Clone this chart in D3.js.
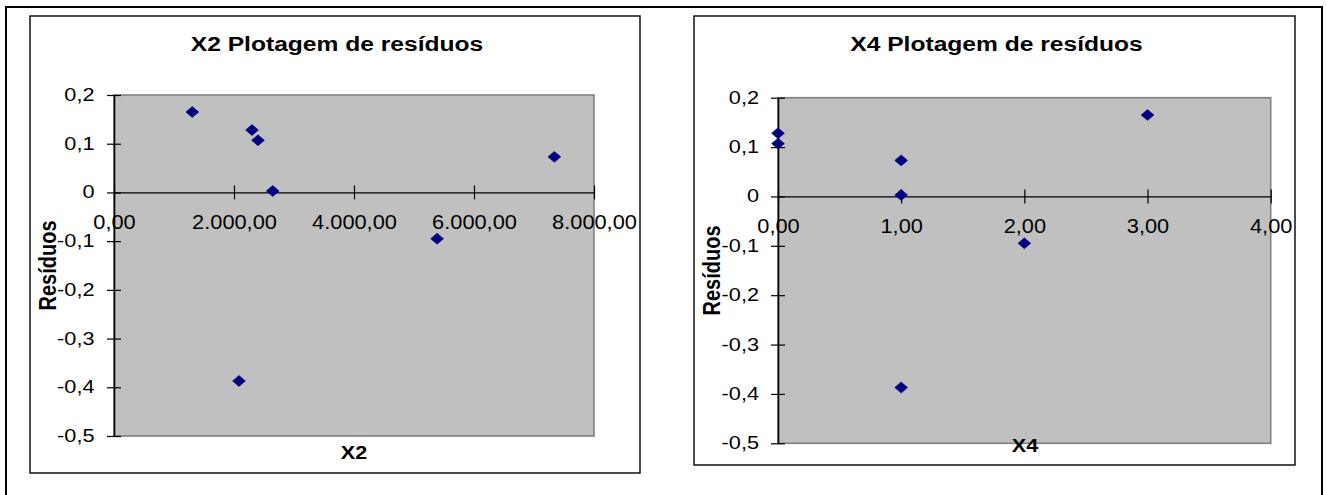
<!DOCTYPE html>
<html>
<head>
<meta charset="utf-8">
<script src="https://cdn.jsdelivr.net/npm/d3@7"></script>
<style>
  html, body { margin: 0; padding: 0; background: #fff; }
  svg { display: block; }
  text { font-family: "Liberation Sans", Arial, Helvetica, sans-serif; }
</style>
</head>
<body>
<svg id="chart" width="1326" height="495"></svg>
<script>
// Residuals of the regression, one per observation
const residuals = [0.165, 0.128, 0.107, 0.003, 0.073, -0.095, -0.387];
// Explanatory variables for the same observations
const x2Values = [1305, 2300, 2400, 2645, 7339, 5385, 2083];
const x4Values = [3, 0, 0, 1, 1, 2, 1];

// Axis ticks and their labels (Portuguese number format)
const yTicks = [-0.5, -0.4, -0.3, -0.2, -0.1, 0, 0.1, 0.2];
const yTickLabels = ["-0,5", "-0,4", "-0,3", "-0,2", "-0,1", "0", "0,1", "0,2"];
const x2Ticks = [0, 2000, 4000, 6000, 8000];
const x2TickLabels = ["0,00", "2.000,00", "4.000,00", "6.000,00", "8.000,00"];
const x4Ticks = [0, 1, 2, 3, 4];
const x4TickLabels = ["0,00", "1,00", "2,00", "3,00", "4,00"];

const svg = d3.select("#chart");

// Outer page frame
svg.append("rect")
  .attr("x", 6).attr("y", 7).attr("width", 1316).attr("height", 520)
  .attr("fill", "none").attr("stroke", "#000").attr("stroke-width", 2);

function drawChart(o) {
  const g = svg.append("g");

  // Chart box
  g.append("rect")
    .attr("x", o.box[0]).attr("y", o.box[1]).attr("width", o.box[2]).attr("height", o.box[3])
    .attr("fill", "#fff").attr("stroke", "#000").attr("stroke-width", 1.4);

  const [px, py, pw, ph] = o.plot;
  const x = d3.scaleLinear().domain([o.xTicks[0], o.xTicks[o.xTicks.length - 1]]).range([px, px + pw]);
  const y = d3.scaleLinear().domain([yTicks[0], yTicks[yTicks.length - 1]]).range([py + ph, py]);

  // Plot area
  g.append("rect")
    .attr("x", px).attr("y", py).attr("width", pw).attr("height", ph)
    .attr("fill", "#c0c0c0").attr("stroke", "#808080").attr("stroke-width", 1.6);

  // Title
  g.append("text")
    .attr("transform", `translate(${o.titleX},${o.titleY}) scale(1.23,1)`)
    .attr("text-anchor", "middle")
    .attr("font-weight", "bold").attr("font-size", 20)
    .attr("fill", "#000")
    .text(o.title);

  // Y axis
  const yAxis = g.append("g")
    .attr("transform", `translate(${px},0)`)
    .call(d3.axisLeft(y).tickValues(yTicks).tickFormat((d, i) => yTickLabels[i]).tickSizeOuter(0));
  yAxis.select(".domain").attr("stroke", "#000").attr("stroke-width", 1.6);
  yAxis.selectAll(".tick line").attr("x1", 7).attr("x2", -7).attr("stroke", "#000").attr("stroke-width", 1.2);
  yAxis.selectAll(".tick text")
    .attr("x", null).attr("dy", null)
    .attr("transform", `translate(${-o.yLabelGap},5.5) scale(1.24,1)`)
    .attr("text-anchor", "end")
    .attr("font-size", 17.5).attr("fill", "#000")
    .attr("font-family", "'Liberation Sans', Arial, sans-serif");

  // X axis through zero
  const xAxis = g.append("g")
    .attr("transform", `translate(0,${y(0)})`)
    .call(d3.axisBottom(x).tickValues(o.xTicks).tickFormat((d, i) => o.xLabels[i]).tickSizeOuter(0));
  xAxis.select(".domain").attr("stroke", "#000").attr("stroke-width", 1.2);
  xAxis.selectAll(".tick line").attr("y1", -7).attr("y2", 7).attr("stroke", "#000").attr("stroke-width", 1.2);
  xAxis.selectAll(".tick text")
    .attr("y", null).attr("dy", null)
    .attr("transform", "translate(0,37) scale(1.09,1)")
    .attr("text-anchor", "middle")
    .attr("font-size", 20).attr("fill", "#000")
    .attr("font-family", "'Liberation Sans', Arial, sans-serif");

  // Axis titles
  g.append("text")
    .attr("transform", `translate(${o.xTitleX},${o.xTitleY}) scale(1.2,1)`)
    .attr("text-anchor", "middle")
    .attr("font-weight", "bold").attr("font-size", 18)
    .text(o.xTitle);

  g.append("text")
    .attr("transform", `translate(${o.yTitleX},${py + ph / 2}) rotate(-90) scale(1,1.15)`)
    .attr("text-anchor", "middle")
    .attr("font-weight", "bold").attr("font-size", 20)
    .text("Resíduos");

  // Data markers
  const diamond = d3.symbol().type(d3.symbolSquare).size(60);
  g.append("g").selectAll("path")
    .data(o.xValues.map((v, i) => ({ x: v, r: residuals[i] })))
    .join("path")
    .attr("d", diamond)
    .attr("transform", d => `translate(${x(d.x)},${y(d.r)}) scale(1.17,1) rotate(45)`)
    .attr("fill", "#000080")
    .attr("stroke", "#000080").attr("stroke-width", 0.5);
}

drawChart({
  box: [30, 16, 610, 457],
  plot: [114, 95, 480, 341],
  xTicks: x2Ticks, xLabels: x2TickLabels, xValues: x2Values,
  title: "X2 Plotagem de resíduos", titleX: 337, titleY: 51,
  xTitle: "X2", xTitleX: 354, xTitleY: 459,
  yTitleX: 56, yLabelGap: 19.5
});

drawChart({
  box: [694, 16, 601, 449],
  plot: [778, 97.7, 492.7, 345.6],
  xTicks: x4Ticks, xLabels: x4TickLabels, xValues: x4Values,
  title: "X4 Plotagem de resíduos", titleX: 996.5, titleY: 51,
  xTitle: "X4", xTitleX: 1025, xTitleY: 452,
  yTitleX: 720, yLabelGap: 19
});
</script>
</body>
</html>
